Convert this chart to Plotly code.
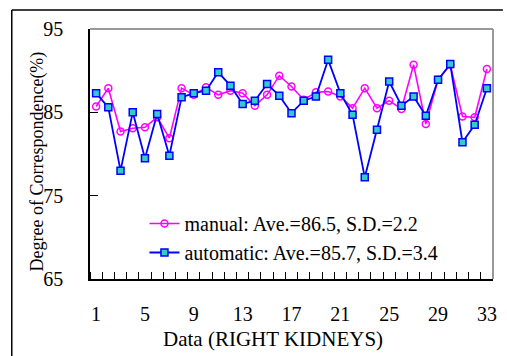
import plotly.graph_objects as go

data_index = list(range(1, 34))
manual = [85.7, 87.9, 82.7, 83.1, 83.2, 84.4, 81.9, 87.9, 87.1, 88.0,
          87.1, 87.6, 87.3, 85.8, 87.1, 89.4, 88.1, 86.5, 87.4, 87.5,
          86.9, 85.5, 87.9, 85.5, 86.4, 85.4, 90.7, 83.6, 88.9, 90.7,
          84.5, 84.4, 90.2]
automatic = [87.3, 85.6, 78.0, 85.0, 79.5, 84.8, 79.8, 86.8, 87.3, 87.6,
             89.8, 88.2, 86.0, 86.4, 88.4, 87.0, 84.9, 86.4, 86.9, 91.3,
             87.3, 84.7, 77.2, 82.9, 88.7, 85.8, 86.9, 84.6, 88.9, 90.8,
             81.4, 83.5, 87.9]
x_ticks = [1, 5, 9, 13, 17, 21, 25, 29, 33]
y_ticks = [65, 75, 85, 95]
names = ["manual: Ave.=86.5, S.D.=2.2", "automatic: Ave.=85.7, S.D.=3.4"]

FONT = "Liberation Serif, Times New Roman, serif"

fig = go.Figure()
fig.add_trace(go.Scatter(
    x=data_index, y=manual, name=names[0], mode="lines+markers",
    line=dict(color="#FF00FF", width=1.6),
    marker=dict(symbol="circle-open", size=7, color="#FF00FF", line=dict(width=1.5)),
))
fig.add_trace(go.Scatter(
    x=data_index, y=automatic, name=names[1], mode="lines+markers",
    line=dict(color="#0000FF", width=1.8),
    marker=dict(symbol="square", size=7, color="#33CCCC", line=dict(color="#0000FF", width=1.5)),
))

fig.update_layout(
    width=507, height=356,
    margin=dict(l=90, r=10, t=29, b=77),
    paper_bgcolor="white", plot_bgcolor="white",
    font=dict(family=FONT, size=18, color="black"),
    showlegend=True,
    legend=dict(
        x=(145 - 90) / 407, y=(279 - 204) / 250, xanchor="left", yanchor="top",
        bgcolor="rgba(0,0,0,0)", font=dict(family=FONT, size=20),
        tracegroupgap=0, itemwidth=30,
    ),
    xaxis=dict(
        range=[0.5, 33.5], tickmode="array", tickvals=x_ticks,
        showgrid=False, zeroline=False,
        showline=True, linecolor="black", linewidth=1.5, mirror=False,
        ticks="", ticklabelstandoff=16,
        minor=dict(ticks="inside", dtick=1, tick0=0.5, ticklen=7, tickcolor="black", tickwidth=1),
        tickfont=dict(family=FONT, size=20),
    ),
    yaxis=dict(
        range=[65, 95], tickmode="array", tickvals=y_ticks,
        showgrid=False, zeroline=False,
        showline=True, linecolor="black", linewidth=1.5,
        ticks="inside", ticklen=8, tickcolor="black", tickwidth=1,
        ticklabelstandoff=21,
        tickfont=dict(family=FONT, size=20),
    ),
)

# gray top/right frame of plot area
fig.add_shape(type="line", xref="paper", yref="paper", x0=0, x1=1, y0=1, y1=1,
              line=dict(color="#999999", width=2))
fig.add_shape(type="line", xref="paper", yref="paper", x0=1, x1=1, y0=0, y1=1,
              line=dict(color="#999999", width=2))

# outer image frame (top and left)
fig.add_shape(type="line", xref="paper", yref="paper",
              x0=(11 - 90) / 407, x1=(507 - 90) / 407,
              y0=(279 - 10) / 250, y1=(279 - 10) / 250,
              line=dict(color="black", width=1.5))
fig.add_shape(type="line", xref="paper", yref="paper",
              x0=(11 - 90) / 407, x1=(11 - 90) / 407,
              y0=(279 - 10) / 250, y1=(279 - 360) / 250,
              line=dict(color="black", width=1.5))

fig.add_annotation(text="Data (RIGHT KIDNEYS)", xref="paper", yref="paper",
                   x=(275 - 90) / 407, y=(279 - 339) / 250,
                   xanchor="center", yanchor="middle", showarrow=False,
                   font=dict(family=FONT, size=21))
fig.add_annotation(text="Degree of Correspondence(%)", xref="paper", yref="paper",
                   x=(36 - 90) / 407, y=(279 - 162) / 250, textangle=-90,
                   xanchor="center", yanchor="middle", showarrow=False,
                   font=dict(family=FONT, size=18))

fig.write_html("out.html")
